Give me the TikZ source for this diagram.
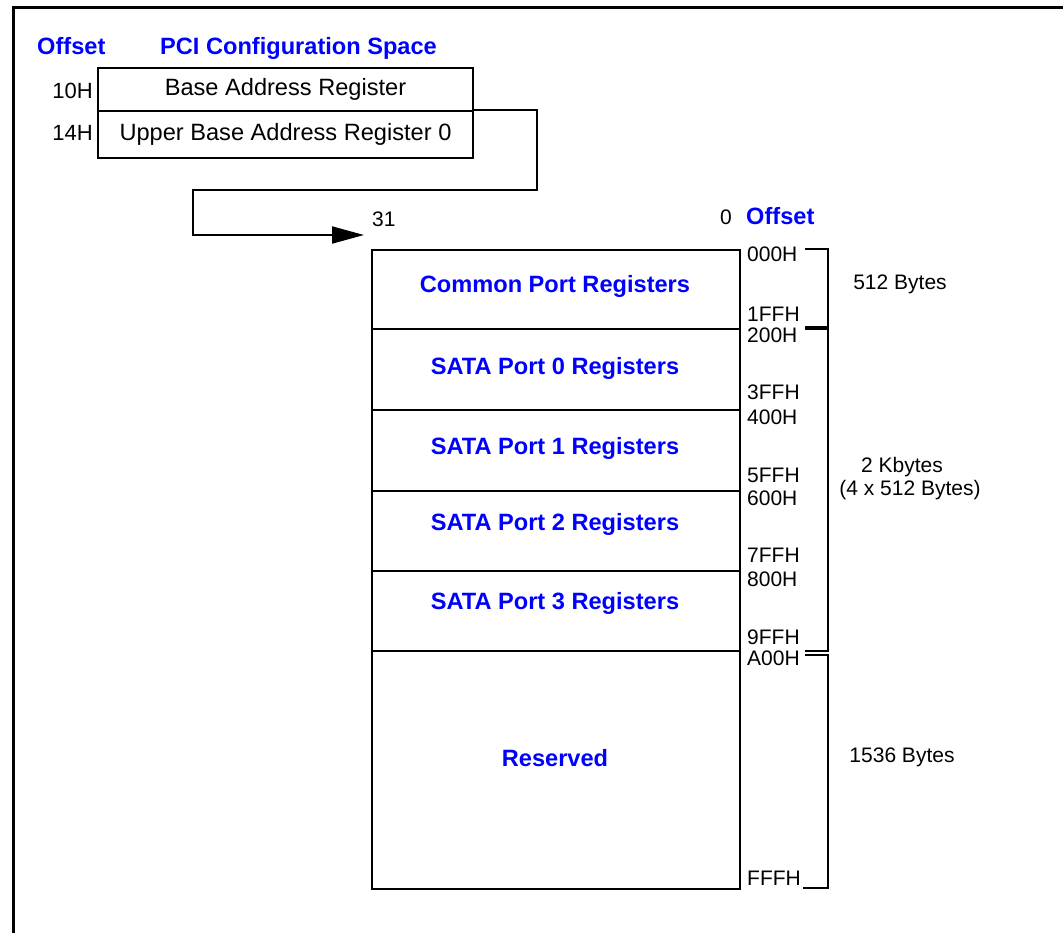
\documentclass[tikz,border=0pt]{standalone}
\usepackage{fontspec}
\setmainfont{Liberation Sans}
\usetikzlibrary{arrows.meta}
\definecolor{lblue}{RGB}{0,0,255}
\begin{document}
\begin{tikzpicture}[x=1pt,y=-1pt,
  txt/.style={font=\fontsize{21}{25}\selectfont, inner sep=0pt, anchor=base},
  btxt/.style={font=\fontsize{23.6}{28}\selectfont\bfseries, text=lblue, inner sep=0pt, anchor=base},
  lbl/.style={font=\fontsize{21}{25}\selectfont, inner sep=0pt, anchor=base west},
  ln/.style={line width=2pt},
  reg/.style={draw, line width=2pt, inner sep=0pt, anchor=north west, minimum width=375pt, font=\fontsize{23.6}{28}\selectfont},
  row/.style={draw, line width=2pt, inner sep=0pt, anchor=north west, minimum width=368pt},
]
\useasboundingbox (0,0) rectangle (1063,932);
\begin{scope}
\clip (0,0) rectangle (1063,932);
\draw[line width=3pt] (13,1000) -- (13,7) -- (1200,7);
\end{scope}

% titles
\node[btxt, anchor=base west] (toff) at (37,54) {Offset};
\node[btxt, anchor=base west] (tpci) at (160,54) {PCI Configuration Space};

% PCI registers
\node[reg, minimum height=43pt] (bar) at (97,67) {Base Address Register};
\node[reg, minimum height=47pt] (ubar) at (97,110) {Upper Base Address Register 0};
\node[txt, anchor=base east, font=\fontsize{22}{26}\selectfont] (o10) at (93,98.5) {10H};
\node[txt, anchor=base east, font=\fontsize{22}{26}\selectfont] (o14) at (93,140.5) {14H};

% connector
\coordinate (tip) at (364,235);
\draw[ln, -{Triangle[length=32pt, width=17pt]}] (ubar.north east) -- (537,110) -- (537,190) -- (193,190) -- (193,235) -- (tip);

\node[txt, anchor=base west] (b31) at (372,226.5) {31};
\node[txt, anchor=base east] (b0) at (732,224) {0};
\node[btxt, anchor=base west] (moff) at (746,224) {Offset};

% memory map
\node[row, minimum height=79pt] (r0) at (371,249) {};
\node[row, minimum height=81pt] (r1) at (371,328) {};
\node[row, minimum height=81pt] (r2) at (371,409) {};
\node[row, minimum height=80pt] (r3) at (371,490) {};
\node[row, minimum height=80pt] (r4) at (371,570) {};
\node[row, minimum height=238pt] (r5) at (371,650) {};

\node[btxt] (t0) at (555,292.5) {Common Port Registers};
\node[btxt] (t1) at (555,374.5) {SATA Port 0 Registers};
\node[btxt] (t2) at (555,454.5) {SATA Port 1 Registers};
\node[btxt] (t3) at (555,530.5) {SATA Port 2 Registers};
\node[btxt] (t4) at (555,609.5) {SATA Port 3 Registers};
\node[btxt] (t5) at (555,766.5) {Reserved};

% offsets
\node[lbl] (a000) at (747,261.5) {000H};
\node[lbl] (a1ff) at (747,321) {1FFH};
\node[lbl] (a200) at (747,342) {200H};
\node[lbl] (a3ff) at (747,399.5) {3FFH};
\node[lbl] (a400) at (747,424.5) {400H};
\node[lbl] (a5ff) at (747,482) {5FFH};
\node[lbl] (a600) at (747,505) {600H};
\node[lbl] (a7ff) at (747,562.5) {7FFH};
\node[lbl] (a800) at (747,586.5) {800H};
\node[lbl] (a9ff) at (747,644.5) {9FFH};
\node[lbl] (aa00) at (747,665.5) {A00H};
\node[lbl] (afff) at (747,885.5) {FFFH};

% brackets
\draw[ln] (805,249) -- (828,249) -- (828,327) -- (805,327);
\draw[ln] (805,329) -- (828,329) -- (828,651) -- (805,651);
\draw[ln] (805,655) -- (828,655) -- (828,888) -- (803,888);

\node[txt] (s1) at (900,289.5) {512 Bytes};
\node[txt] (s2) at (902,472.5) {2 Kbytes};
\node[txt] (s3) at (910,495.5) {(4 x 512 Bytes)};
\node[txt] (s4) at (902,762.5) {1536 Bytes};
\end{tikzpicture}
\end{document}
